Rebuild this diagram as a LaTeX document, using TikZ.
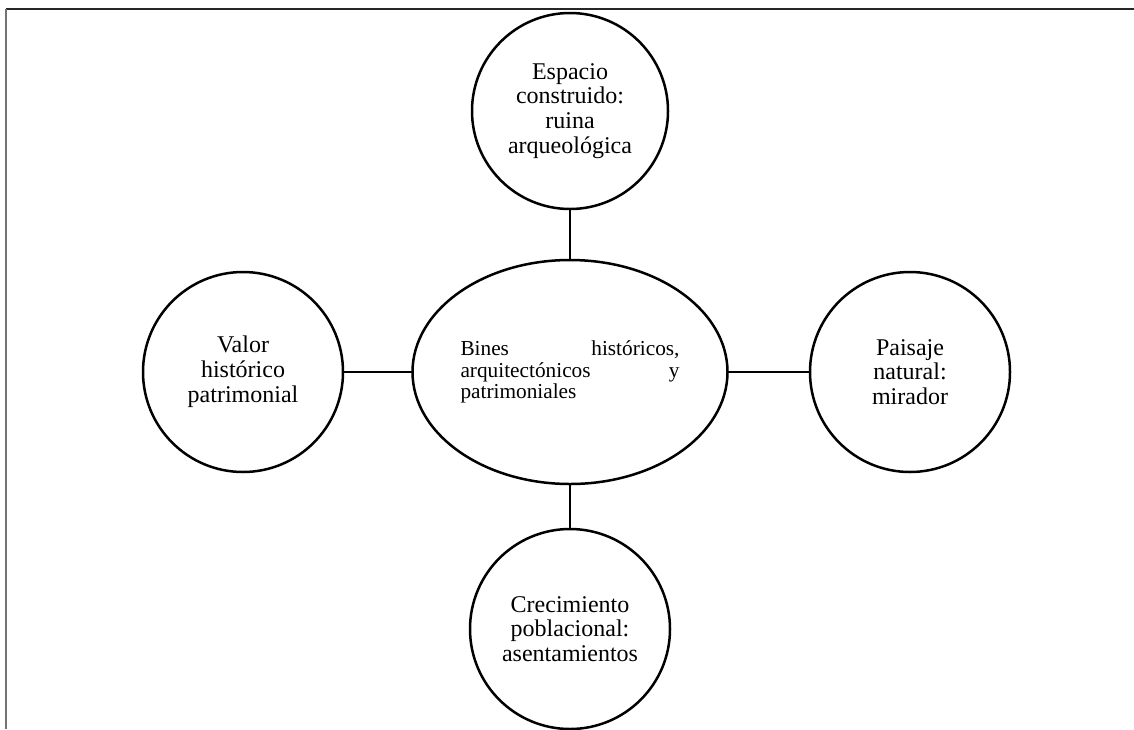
\documentclass[tikz,border=0pt]{standalone}
\usepackage{fontspec}
\setmainfont{Liberation Serif}
\usetikzlibrary{shapes.geometric}
\newcommand{\spreadline}[2]{\hbox to 109.5pt{#1\hfill #2}}

\begin{document}
\begin{tikzpicture}[x=0.5pt,y=-0.5pt,inner sep=0pt,outer sep=0pt,line width=1.25pt,
topic/.style={draw,circle,minimum size=100pt,align=center,font=\fontsize{12}{12.4}\selectfont},
hubnode/.style={draw,ellipse,minimum width=157.5pt,minimum height=112pt,align=left,font=\fontsize{10.65}{10.9}\selectfont}]
\useasboundingbox (0,0) rectangle (1134,729);

% page frame
\draw[black!85,line width=1pt] (5.5,8.5) -- (1134,8.5);
\draw[black!55,line width=1pt] (6,8.5) -- (6,729);

\draw (570,372) node[hubnode] (hub) {\spreadline{Bines}{históricos,}\\ \spreadline{arquitectónicos}{y}\\ patrimoniales};
\draw (570,111) node[topic,minimum size=98pt] (built) {Espacio\\ construido:\\ ruina\\ arqueológica};
\draw (243,372) node[topic] (value) {Valor\\ histórico\\ patrimonial};
\draw (910,372) node[topic] (view) {Paisaje\\ natural:\\ mirador};
\draw (570,629) node[topic] (growth) {Crecimiento\\ poblacional:\\ asentamientos};

\draw (built) -- (hub);
\draw (value) -- (hub);
\draw (hub) -- (view);
\draw (hub) -- (growth);
\end{tikzpicture}
\end{document}
